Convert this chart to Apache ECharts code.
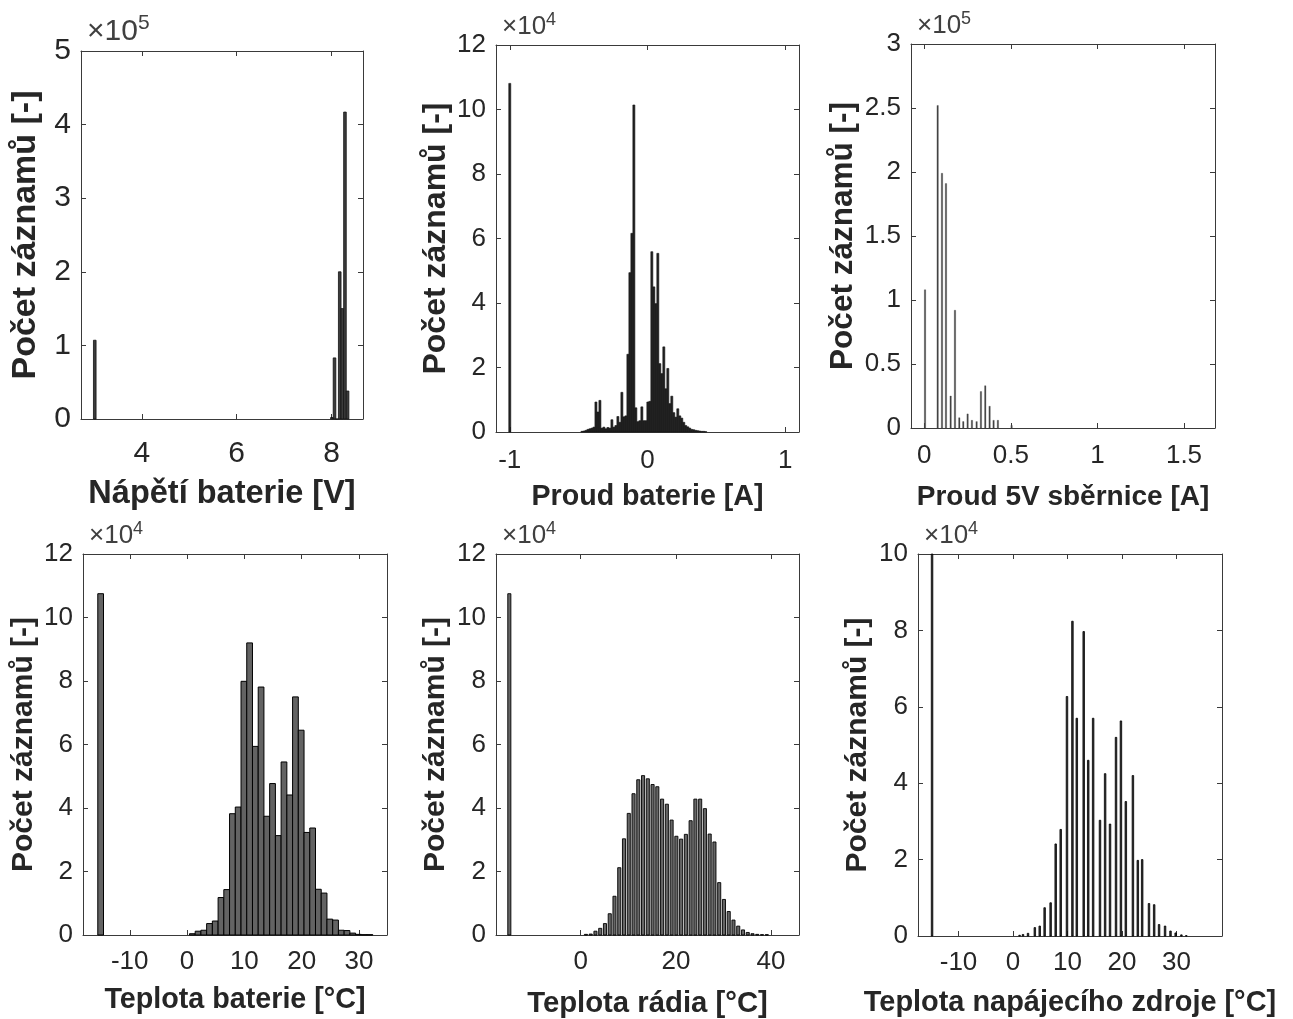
<!DOCTYPE html>
<html>
<head>
<meta charset="utf-8">
<script src="https://cdn.jsdelivr.net/npm/echarts@6/dist/echarts.min.js"></script>
<style>
  html, body { margin: 0; padding: 0; background: #fff; }
  #chart { width: 1293px; height: 1019px; }
</style>
</head>
<body>
<div id="chart"></div>
<script>
// ---- data (counts are in the units shown on each y axis: x10^5 or x10^4) ----

// Napeti baterie [V], counts x10^5
var napetiCenters = [3.01, 8.005, 8.06, 8.115, 8.17, 8.225, 8.28, 8.335];
var napetiCounts  = [1.07, 0.02, 0.83, 0.0, 2.0, 1.5, 4.17, 0.38];

// Proud baterie [A], counts x10^4
var proudCenters = [-1.0,
  -0.476, -0.4615, -0.447, -0.4325, -0.418, -0.4035, -0.389, -0.3745, -0.36, -0.3455,
  -0.331, -0.3165, -0.302, -0.2875, -0.273, -0.2585, -0.244, -0.2295, -0.215, -0.2005,
  -0.186, -0.1715, -0.157, -0.1425, -0.128, -0.1135, -0.099, -0.0845, -0.07, -0.0555,
  -0.041, -0.0265, -0.012, 0.0025, 0.017, 0.0315, 0.046, 0.0605, 0.075, 0.0895,
  0.104, 0.1185, 0.133, 0.1475, 0.162, 0.1765, 0.191, 0.2055, 0.22, 0.2345,
  0.249, 0.2635, 0.278, 0.2925, 0.307, 0.3215, 0.336, 0.3505, 0.365, 0.3795,
  0.394, 0.4085, 0.423];
var proudCounts = [10.81,
  0.02, 0.03, 0.05, 0.08, 0.1, 0.12, 0.15, 0.93, 0.62, 0.98,
  0.12, 0.15, 0.1, 0.14, 0.12, 0.38, 0.15, 0.2, 0.48, 0.3,
  1.23, 0.47, 0.5, 2.41, 4.94, 6.16, 10.14, 0.75, 0.32, 0.35,
  0.78, 0.35, 0.35, 0.93, 0.95, 5.59, 4.5, 3.98, 5.54, 2.12,
  1.81, 2.64, 1.34, 1.97, 0.88, 1.11, 0.6, 0.46, 0.72, 0.5,
  0.43, 0.3, 0.2, 0.16, 0.12, 0.08, 0.07, 0.05, 0.04, 0.03,
  0.02, 0.02, 0.01];

// Proud 5V sbernice [A], counts x10^5
var bus5vCenters = [0.004, 0.077, 0.102, 0.125, 0.152, 0.177, 0.202, 0.225, 0.25, 0.275,
  0.302, 0.327, 0.352, 0.377, 0.4, 0.425, 0.504];
var bus5vCounts  = [1.08, 2.52, 1.99, 1.91, 0.25, 0.92, 0.08, 0.05, 0.11, 0.06,
  0.05, 0.285, 0.33, 0.17, 0.06, 0.06, 0.02];

// Teplota baterie [degC], counts x10^4
var tBatCenters = [-15.08, 0.92, 1.92, 2.92, 3.92, 4.92, 5.92, 6.92, 7.92, 8.92, 9.92,
  10.92, 11.92, 12.92, 13.92, 14.92, 15.92, 16.92, 17.92, 18.92, 19.92,
  20.92, 21.92, 22.92, 23.92, 24.92, 25.92, 26.92, 27.92, 28.92, 29.92, 30.92, 31.92];
var tBatCounts = [10.75, 0.04, 0.12, 0.15, 0.36, 0.44, 1.18, 1.43, 3.82, 4.03, 7.99,
  9.2, 5.94, 7.81, 3.74, 4.77, 3.13, 5.45, 4.41, 7.5, 6.45,
  3.23, 3.37, 1.44, 1.32, 0.5, 0.47, 0.15, 0.14, 0.06, 0.02, 0.01, 0.01];

// Teplota radia [degC], counts x10^4
var tRadCenters = [-15, 1.1, 2.1, 3.1, 4.1, 5.1, 6.1, 7.1, 8.1, 9.1, 10.1,
  11.1, 12.1, 13.1, 14.1, 15.1, 16.1, 17.1, 18.1, 19.1, 20.1,
  21.1, 22.1, 23.1, 24.1, 25.1, 26.1, 27.1, 28.1, 29.1, 30.1,
  31.1, 32.1, 33.1, 34.1, 35.1, 36.1, 37.1, 38.1, 39.1];
var tRadCounts = [10.75, 0.02, 0.03, 0.12, 0.21, 0.36, 0.67, 1.22, 2.12, 3.03, 3.83,
  4.45, 4.89, 5.02, 4.92, 4.74, 4.67, 4.28, 4.12, 3.62, 3.11,
  3.02, 3.17, 3.6, 4.28, 4.28, 3.98, 3.18, 2.93, 1.65, 1.12,
  0.74, 0.47, 0.28, 0.16, 0.08, 0.04, 0.02, 0.01, 0.01];

// Teplota napajeciho zdroje [degC], counts x10^4
var tZdrCenters = [-14.86, 1.2, 1.83, 2.75, 4.0, 4.9, 5.8, 6.9, 7.83, 8.75, 9.9,
  10.9, 11.7, 12.97, 13.8, 14.7, 15.96, 16.9, 17.8, 18.9, 19.8,
  20.7, 22.0, 22.9, 23.7, 24.95, 25.9, 26.8, 27.9, 28.9, 29.85, 30.9, 31.8];
var tZdrCounts = [10.75, 0.02, 0.04, 0.07, 0.22, 0.26, 0.74, 0.87, 2.41, 2.79, 6.27,
  8.24, 5.7, 7.97, 4.6, 5.7, 3.03, 4.25, 2.93, 5.2, 5.63,
  3.52, 4.2, 1.98, 2.0, 0.85, 0.82, 0.3, 0.26, 0.13, 0.08, 0.03, 0.01];

// ---- panels ----
var FONT = "'Liberation Sans', Arial, Helvetica, sans-serif";
var TXT = '#262626';
var yName = 'Počet záznamů [-]';

var panels = [
  { grid: [81, 51, 282, 368], xMin: 2.72, xMax: 8.66, xTicks: [4, 6, 8],
    yMax: 5, yStep: 1, exp: '5', xName: 'Nápětí baterie [V]',
    tickFs: 30, tickMargin: 20, xFs: 32.5, xGap: 59, yFs: 34, yGap: 38, expFs: 30,
    centers: napetiCenters, counts: napetiCounts, bw: 0.055, fill: '#3c3c3c', stroke: '#111', lw: 0.8 },
  { grid: [496, 45, 303, 387], xMin: -1.1, xMax: 1.1, xTicks: [-1, 0, 1],
    yMax: 12, yStep: 2, exp: '4', xName: 'Proud baterie [A]',
    tickFs: 26, tickMargin: 16, xFs: 28.6, xGap: 51, yFs: 32, yGap: 44, expFs: 26,
    centers: proudCenters, counts: proudCounts, bw: 0.0145, fill: '#222', stroke: '#111', lw: 0.6 },
  { grid: [911, 44, 304, 384], xMin: -0.077, xMax: 1.679, xTicks: [0, 0.5, 1, 1.5],
    yMax: 3, yStep: 0.5, exp: '5', xName: 'Proud 5V sběrnice [A]',
    tickFs: 26, tickMargin: 15, xFs: 28, xGap: 55, yFs: 31.5, yGap: 52, expFs: 26,
    centers: bus5vCenters, counts: bus5vCounts, bw: 0.008, fill: '#444', stroke: '#444', lw: 0.3 },
  { grid: [83, 554, 304, 381], xMin: -18.16, xMax: 34.9, xTicks: [-10, 0, 10, 20, 30],
    yMax: 12, yStep: 2, exp: '4', xName: 'Teplota baterie [°C]',
    tickFs: 26, tickMargin: 14, xFs: 28.7, xGap: 51, yFs: 30, yGap: 44, expFs: 26,
    centers: tBatCenters, counts: tBatCounts, bw: 1.0, fill: '#636363', stroke: '#000', lw: 1 },
  { grid: [496, 554, 303, 384], xMin: -17.8, xMax: 45.87, xTicks: [0, 20, 40],
    yMax: 12, yStep: 2, exp: '4', xName: 'Teplota rádia [°C]',
    tickFs: 26, tickMargin: 14, xFs: 29.3, xGap: 54, yFs: 30, yGap: 45, expFs: 26,
    centers: tRadCenters, counts: tRadCounts, bw: 0.65, fill: '#666', stroke: '#000', lw: 0.9 },
  { grid: [918, 554, 304, 383], xMin: -17.44, xMax: 38.35, xTicks: [-10, 0, 10, 20, 30],
    yMax: 10, yStep: 2, exp: '4', xName: 'Teplota napájecího zdroje [°C]',
    tickFs: 26, tickMargin: 14, xFs: 28.9, xGap: 53, yFs: 30, yGap: 45, expFs: 26,
    centers: tZdrCenters, counts: tZdrCounts, bw: 0.28, fill: '#333', stroke: '#000', lw: 0.8 }
];

function histItem(bw, fill, stroke, lw) {
  return function (params, api) {
    var x = api.value(0), y = api.value(1);
    var p0 = api.coord([x - bw / 2, 0]);
    var p1 = api.coord([x + bw / 2, y]);
    var cs = params.coordSys;
    var rect = echarts.graphic.clipRectByRect(
      { x: p0[0], y: p1[1], width: p1[0] - p0[0], height: p0[1] - p1[1] },
      { x: cs.x, y: cs.y, width: cs.width, height: cs.height });
    if (!rect) return;
    return { type: 'rect', shape: rect, style: { fill: fill, stroke: stroke, lineWidth: lw } };
  };
}

var axisLine = { show: true, onZero: false, lineStyle: { color: '#3a3a3a', width: 1 } };
var tickLine = { color: '#3a3a3a' };

var option = { animation: false, backgroundColor: '#fff', grid: [], xAxis: [], yAxis: [], series: [], title: [] };

panels.forEach(function (p, i) {
  option.grid.push({ left: p.grid[0], top: p.grid[1], width: p.grid[2], height: p.grid[3] });

  // bottom x axis
  option.xAxis.push({
    type: 'value', gridIndex: i, position: 'bottom', min: p.xMin, max: p.xMax,
    name: p.xName, nameLocation: 'middle', nameGap: p.xGap,
    nameTextStyle: { fontFamily: FONT, fontSize: p.xFs, fontWeight: 'bold', color: TXT },
    axisLine: axisLine, splitLine: { show: false },
    axisTick: { show: true, inside: true, length: 5, customValues: p.xTicks, lineStyle: tickLine },
    axisLabel: { customValues: p.xTicks, fontFamily: FONT, fontSize: p.tickFs, color: TXT, margin: p.tickMargin }
  });
  // top x axis (box + mirrored ticks)
  option.xAxis.push({
    type: 'value', gridIndex: i, position: 'top', min: p.xMin, max: p.xMax,
    axisLine: axisLine, splitLine: { show: false },
    axisTick: { show: true, inside: true, length: 5, customValues: p.xTicks, lineStyle: tickLine },
    axisLabel: { show: false }
  });
  // left y axis
  option.yAxis.push({
    type: 'value', gridIndex: i, position: 'left', min: 0, max: p.yMax, interval: p.yStep,
    name: yName, nameLocation: 'middle', nameGap: p.yGap, nameRotate: 90,
    nameTextStyle: { fontFamily: FONT, fontSize: p.yFs, fontWeight: 'bold', color: TXT },
    axisLine: axisLine, splitLine: { show: false },
    axisTick: { show: true, inside: true, length: 5, lineStyle: tickLine },
    axisLabel: { fontFamily: FONT, fontSize: p.tickFs, color: TXT, margin: 10 }
  });
  // right y axis
  option.yAxis.push({
    type: 'value', gridIndex: i, position: 'right', min: 0, max: p.yMax, interval: p.yStep,
    axisLine: axisLine, splitLine: { show: false },
    axisTick: { show: true, inside: true, length: 5, lineStyle: tickLine },
    axisLabel: { show: false }
  });

  option.series.push({
    type: 'custom', xAxisIndex: 2 * i, yAxisIndex: 2 * i, silent: true,
    renderItem: histItem(p.bw, p.fill, p.stroke, p.lw),
    encode: { x: 0, y: 1 },
    data: p.centers.map(function (c, k) { return [c, p.counts[k]]; })
  });

  // exponent label above each y axis
  option.title.push({
    left: p.grid[0] + 1, top: p.grid[1] - p.expFs - 13,
    text: '{x|×10}{s|' + p.exp + '}',
    textStyle: {
      rich: {
        x: { fontFamily: FONT, fontSize: p.expFs, fontWeight: 'normal', color: '#404040', lineHeight: p.expFs + 4 },
        s: { fontFamily: FONT, fontSize: Math.round(p.expFs * 0.7), fontWeight: 'normal', color: '#404040',
             padding: [0, 0, Math.round(p.expFs * 0.55), 0] }
      }
    }
  });
});

var chart = echarts.init(document.getElementById('chart'), null, { renderer: 'canvas' });
chart.setOption(option);
</script>
</body>
</html>
